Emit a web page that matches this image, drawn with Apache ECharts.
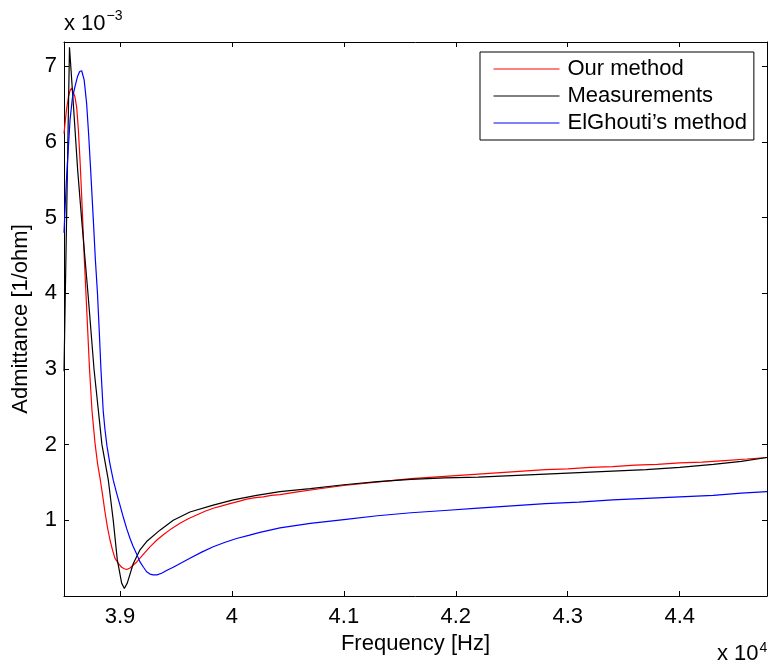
<!DOCTYPE html>
<html><head><meta charset="utf-8">
<script src="https://cdn.jsdelivr.net/npm/echarts@6/dist/echarts.min.js"></script>
<style>html,body{margin:0;padding:0;background:#fff}#c{width:770px;height:666px}</style>
</head><body><div id="c"></div>
<script>
// Frequency in Hz, admittance in units of 1e-3 (1/ohm)
const ourFreq = [38500,38520,38540,38555,38568,38582,38597,38613,38628,38643,38655,38667,38680,38696,38712,38728,38750,38777,38800,38827,38846,38866,38888,38911,38933,38955,38985,39015,39038,39060,39090,39119,39150,39179,39220,39268,39330,39387,39460,39536,39610,39685,39760,39833,39910,39982,40060,40131,40210,40280,40350,40429,40600,40800,41000,41200,41400,41600,41800,42000,42200,42400,42600,42800,43000,43200,43400,43600,43800,44000,44200,44400,44600,44780];
const ourVals = [6.11,6.40,6.60,6.68,6.71,6.69,6.60,6.46,6.17,5.76,5.38,4.97,4.50,4.00,3.50,3.00,2.45,2.02,1.75,1.51,1.32,1.11,0.91,0.74,0.61,0.50,0.43,0.38,0.36,0.35,0.37,0.41,0.45,0.50,0.57,0.65,0.74,0.81,0.89,0.96,1.02,1.07,1.12,1.16,1.19,1.22,1.25,1.28,1.30,1.31,1.33,1.34,1.38,1.42,1.46,1.49,1.52,1.55,1.57,1.59,1.61,1.63,1.65,1.67,1.68,1.70,1.71,1.73,1.74,1.76,1.77,1.79,1.81,1.83];
const measFreq = [38500,38549,38583,38622,38658,38714,38768,38839,38896,38940,38976,39015,39039,39065,39119,39179,39238,39357,39476,39625,39833,40012,40220,40429,40700,41000,41300,41600,41900,42200,42500,42800,43100,43400,43700,44000,44300,44550,44780];
const measVals = [2.97,7.25,6.51,5.63,4.97,4.00,3.00,2.00,1.53,1.00,0.48,0.17,0.10,0.17,0.43,0.61,0.72,0.87,1.00,1.11,1.20,1.27,1.33,1.38,1.42,1.47,1.51,1.54,1.56,1.57,1.59,1.61,1.63,1.65,1.67,1.70,1.74,1.78,1.83];
const elgFreq = [38500,38520,38540,38554,38575,38598,38620,38640,38658,38680,38702,38720,38738,38762,38780,38799,38815,38830,38850,38866,38884,38910,38940,38970,39000,39030,39060,39090,39119,39150,39179,39210,39238,39268,39297,39330,39372,39420,39476,39550,39625,39730,39833,39940,40042,40150,40250,40340,40429,40700,41000,41300,41600,41900,42200,42500,42800,43100,43400,43700,44000,44300,44550,44780];
const elgVals = [4.80,5.45,5.95,6.29,6.58,6.73,6.86,6.93,6.94,6.82,6.51,6.10,5.63,4.97,4.45,4.00,3.50,3.00,2.45,2.20,1.98,1.75,1.53,1.36,1.20,1.04,0.89,0.76,0.65,0.55,0.45,0.38,0.32,0.29,0.28,0.28,0.30,0.34,0.38,0.44,0.50,0.58,0.65,0.71,0.76,0.80,0.84,0.87,0.90,0.96,1.01,1.06,1.10,1.13,1.16,1.19,1.22,1.24,1.27,1.29,1.31,1.33,1.36,1.38];
const xTicks = [39000,40000,41000,42000,43000,44000];
const yTicks = [1,2,3,4,5,6,7];
const seriesNames = ['Our method','Measurements','ElGhouti’s method'];
const seriesColors = ['#ff0000','#000000','#0000ff'];

const zip = (a,b) => a.map((v,i)=>[v,b[i]]);
const FONT = 'Liberation Sans, Arial, Helvetica, sans-serif';
const FS = 22;
const chart = echarts.init(document.getElementById('c'), null, {renderer:'canvas'});
const XMIN=38500, XMAX=44780, YMIN=0, YMAX=7.32;
const axisLine = {show:true, onZero:false, lineStyle:{color:'#000', width:1}};
const tick = (vals)=>({show:true, inside:true, length:5, lineStyle:{color:'#000',width:1}, customValues:vals});

chart.setOption({
  animation:false,
  backgroundColor:'#fff',
  color:seriesColors,
  grid:{left:64, right:3, top:42, bottom:70, show:false},
  legend:{
    show:true, orient:'vertical', left:480, top:52,
    backgroundColor:'#fff', borderColor:'#000', borderWidth:1, borderRadius:0,
    padding:[5,7,5,13], itemGap:3, itemWidth:66, itemHeight:14,
    selectedMode:false,
    itemStyle:{opacity:0},
    lineStyle:{width:1, opacity:1},
    textStyle:{color:'#000', fontSize:FS, fontFamily:FONT, lineHeight:24, padding:[0,0,0,3]},
    data:seriesNames
  },
  xAxis:[
    {type:'value', min:XMIN, max:XMAX, position:'bottom',
     axisLine, axisTick:tick(xTicks), splitLine:{show:false},
     axisLabel:{customValues:xTicks, margin:10, color:'#000', fontSize:FS, fontFamily:FONT, formatter:v=>String(+(v/1e4).toFixed(1))},
     name:'Frequency [Hz]', nameLocation:'middle', nameGap:29,
     nameTextStyle:{color:'#000', fontSize:FS, fontFamily:FONT, verticalAlign:'top'}},
    {type:'value', min:XMIN, max:XMAX, position:'top',
     axisLine, axisTick:tick(xTicks), axisLabel:{show:false}, splitLine:{show:false}}
  ],
  yAxis:[
    {type:'value', min:YMIN, max:YMAX, position:'left',
     axisLine, axisTick:tick(yTicks), splitLine:{show:false},
     axisLabel:{customValues:yTicks, margin:7, color:'#000', fontSize:FS, fontFamily:FONT},
     name:'Admittance [1/ohm]', nameLocation:'middle', nameGap:32, nameRotate:90,
     nameTextStyle:{color:'#000', fontSize:FS, fontFamily:FONT}},
    {type:'value', min:YMIN, max:YMAX, position:'right',
     axisLine, axisTick:tick(yTicks), axisLabel:{show:false}, splitLine:{show:false}}
  ],
  graphic:[
    {type:'text', id:'ymul', left:64, top:9, style:{text:'{a|x 10}{b|−3}', rich:{a:{fontSize:FS,fontFamily:FONT,fill:'#000',verticalAlign:'bottom'}, b:{fontSize:14,fontFamily:FONT,fill:'#000',verticalAlign:'top', padding:[0,0,12,1]}}}},
    {type:'text', id:'xmul', left:717, top:641, style:{text:'{a|x 10}{b|4}', rich:{a:{fontSize:FS,fontFamily:FONT,fill:'#000'}, b:{fontSize:14,fontFamily:FONT,fill:'#000', padding:[0,0,12,1]}}}}
  ],
  series:[
    {name:seriesNames[0], type:'line', data:zip(ourFreq,ourVals), showSymbol:false, symbol:'none', smooth:false, lineStyle:{color:seriesColors[0], width:1.2}, itemStyle:{color:seriesColors[0]}},
    {name:seriesNames[1], type:'line', data:zip(measFreq,measVals), showSymbol:false, symbol:'none', smooth:false, lineStyle:{color:seriesColors[1], width:1.2}, itemStyle:{color:seriesColors[1]}},
    {name:seriesNames[2], type:'line', data:zip(elgFreq,elgVals), showSymbol:false, symbol:'none', smooth:false, lineStyle:{color:seriesColors[2], width:1.2}, itemStyle:{color:seriesColors[2]}}
  ]
});
</script></body></html>
